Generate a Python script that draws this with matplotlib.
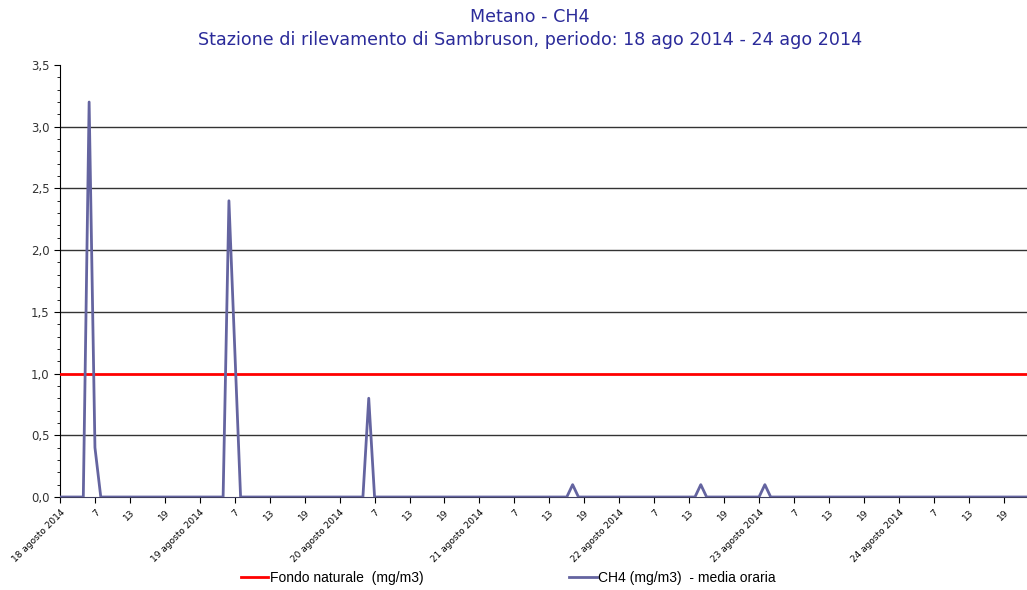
import matplotlib
matplotlib.use('Agg')
import matplotlib.pyplot as plt
from matplotlib.lines import Line2D
from matplotlib.ticker import MultipleLocator, FuncFormatter

# CH4 hourly means (mg/m3), one list per day, hour 1..24
day_18 = [0, 0, 0, 0, 0, 3.2, 0.4, 0, 0, 0, 0, 0, 0, 0, 0, 0, 0, 0, 0, 0, 0, 0, 0, 0]
day_19 = [0, 0, 0, 0, 0, 2.4, 1.2, 0, 0, 0, 0, 0, 0, 0, 0, 0, 0, 0, 0, 0, 0, 0, 0, 0]
day_20 = [0, 0, 0, 0, 0, 0.8, 0, 0, 0, 0, 0, 0, 0, 0, 0, 0, 0, 0, 0, 0, 0, 0, 0, 0]
day_21 = [0, 0, 0, 0, 0, 0, 0, 0, 0, 0, 0, 0, 0, 0, 0, 0, 0.1, 0, 0, 0, 0, 0, 0, 0]
day_22 = [0, 0, 0, 0, 0, 0, 0, 0, 0, 0, 0, 0, 0, 0, 0.1, 0, 0, 0, 0, 0, 0, 0, 0, 0]
day_23 = [0, 0.1, 0, 0, 0, 0, 0, 0, 0, 0, 0, 0, 0, 0, 0, 0, 0, 0, 0, 0, 0, 0, 0, 0]
day_24 = [0, 0, 0, 0, 0, 0, 0, 0, 0, 0, 0, 0, 0, 0, 0, 0, 0, 0, 0, 0, 0, 0, 0, 0]
ch4 = day_18 + day_19 + day_20 + day_21 + day_22 + day_23 + day_24

fondo_naturale = 1.0
day_labels = ['18 agosto 2014', '19 agosto 2014', '20 agosto 2014', '21 agosto 2014',
              '22 agosto 2014', '23 agosto 2014', '24 agosto 2014']
hour_labels = ['7', '13', '19']

title_color = '#2B2B9A'
line_color = '#6464A0'

fig = plt.figure(figsize=(10.27, 5.90), dpi=100)
ax = fig.add_axes([60 / 1027, 93 / 590, 967 / 1027, 432 / 590])

hours = list(range(len(ch4)))
ax.axhline(fondo_naturale, color='#FF0000', lw=2, zorder=3)
ax.plot(hours, ch4, color=line_color, lw=2, zorder=4)

ax.set_xlim(0, 166)
ax.set_ylim(0, 3.5)

# x ticks every 6 hours
xt, xl = [], []
for d, lab in enumerate(day_labels):
    xt.append(d * 24)
    xl.append(lab)
    for j, h in enumerate(hour_labels):
        xt.append(d * 24 + 6 * (j + 1))
        xl.append(h)
ax.set_xticks(xt)
ax.set_xticklabels(xl, rotation=45, ha='right', rotation_mode='anchor', fontsize=6.5)
ax.tick_params(axis='x', length=4, direction='out', pad=4)

ax.yaxis.set_major_locator(MultipleLocator(0.5))
ax.yaxis.set_minor_locator(MultipleLocator(0.1))
ax.yaxis.set_major_formatter(FuncFormatter(lambda v, p: ('%.1f' % v).replace('.', ',')))
ax.tick_params(axis='y', which='major', length=4, labelsize=8.5, labelcolor='#333333')
ax.tick_params(axis='y', which='minor', length=2)

for v in [0.5, 1.5, 2.0, 2.5, 3.0]:
    ax.axhline(v, color='#333333', lw=1, zorder=1)

ax.spines['top'].set_visible(False)
ax.spines['right'].set_visible(False)
ax.spines['bottom'].set_color('#404060')

fig.text(0.516, 0.972, 'Metano - CH4', ha='center', va='center', fontsize=12.6, color=title_color)
fig.text(0.516, 0.933, 'Stazione di rilevamento di Sambruson, periodo: 18 ago 2014 - 24 ago 2014',
         ha='center', va='center', fontsize=12.6, color=title_color)

handles = [Line2D([], [], color='#FF0000', lw=2), Line2D([], [], color=line_color, lw=2)]
fig.legend(handles, ['Fondo naturale  (mg/m3)', 'CH4 (mg/m3)  - media oraria'],
           loc='center', bbox_to_anchor=(0.495, 0.02), ncol=2, frameon=False,
           handlelength=2.0, handletextpad=0.1, columnspacing=10.5,
           prop={'family': 'Liberation Sans', 'size': 10})

fig.savefig('out.png', dpi=100)
